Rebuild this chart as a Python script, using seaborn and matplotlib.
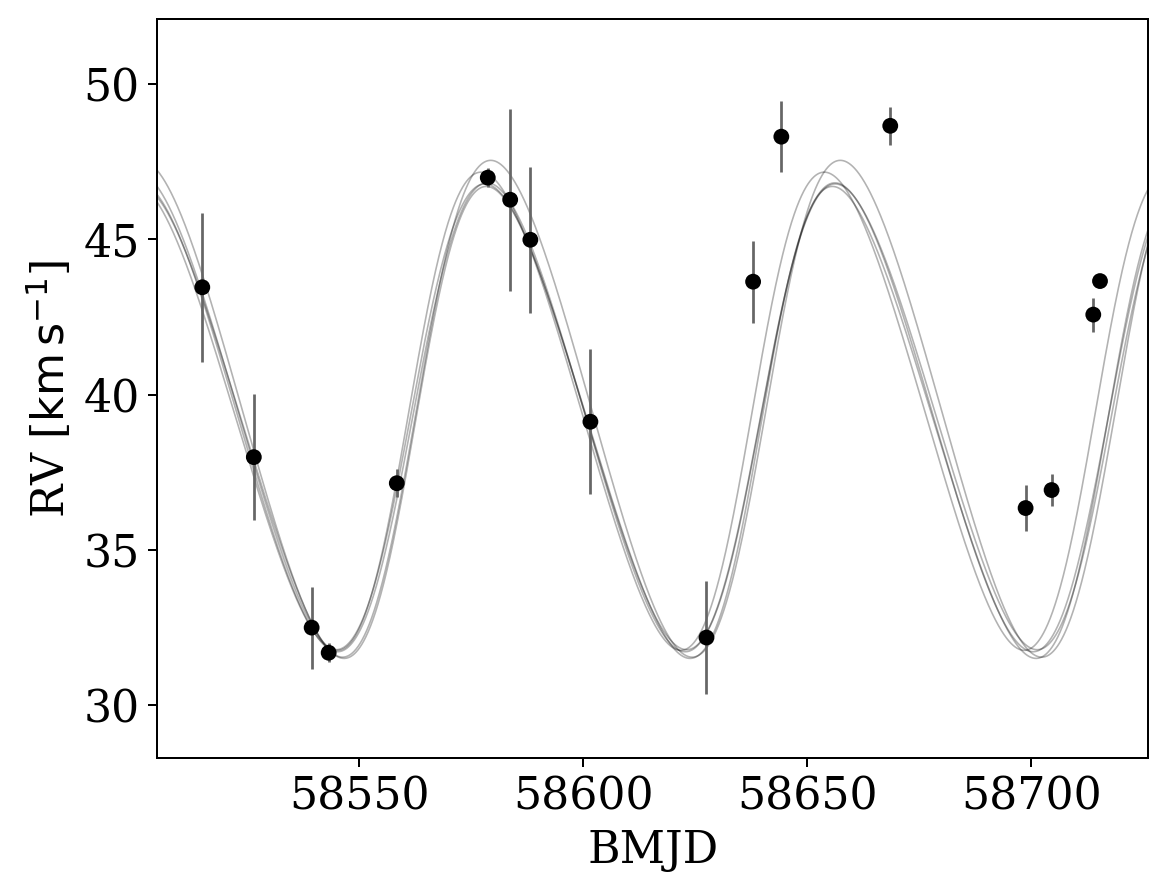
import numpy as np
import pandas as pd
import matplotlib
matplotlib.use("Agg")
import matplotlib.pyplot as plt
import seaborn as sns

bmjd = [58515.0, 58526.5, 58539.4, 58543.2, 58558.4, 58578.7, 58583.7, 58588.2,
        58601.6, 58627.5, 58637.9, 58644.2, 58668.5, 58698.7, 58704.5, 58713.8, 58715.3]
rv = [43.46, 37.99, 32.50, 31.69, 37.15, 46.99, 46.28, 44.99,
      39.13, 32.18, 43.64, 48.31, 48.66, 36.35, 36.93, 42.58, 43.66]
rv_err = [2.40, 2.02, 1.32, 0.30, 0.46, 0.30, 2.93, 2.35,
          2.34, 1.81, 1.32, 1.14, 0.62, 0.75, 0.51, 0.55, 0.20]

# ---- orbit samples (Keplerian parameters) ----
orb_P = [78.0, 76.6, 77.6, 78.2, 77.2]
orb_K = [8.00, 7.70, 7.55, 7.50, 7.60]
orb_e = [0.12, 0.13, 0.11, 0.12, 0.14]
orb_omega = [4.71, 4.68, 4.74, 4.70, 4.72]
orb_tp = [58562.8, 58560.8, 58562.2, 58561.3, 58562.6]
orb_v0 = [39.55, 39.50, 39.25, 39.30, 39.10]

x_lim = (58505.0, 58726.0)
y_lim = (28.3, 52.1)


def kepler_rv(t, P, K, e, omega, tp, v0):
    M = 2 * np.pi * (t - tp) / P
    E = M.copy()
    for _ in range(50):
        E = E - (E - e * np.sin(E) - M) / (1 - e * np.cos(E))
    nu = 2 * np.arctan2(np.sqrt(1 + e) * np.sin(E / 2), np.sqrt(1 - e) * np.cos(E / 2))
    return v0 + K * (np.cos(nu + omega) + e * np.cos(omega))


sns.set_style("ticks")
plt.rcParams.update({
    "font.family": ["DejaVu Serif"],
    "mathtext.fontset": "dejavusans",
    "axes.edgecolor": "black",
    "xtick.color": "black",
    "ytick.color": "black",
    "axes.labelcolor": "black",
    "text.color": "black",
    "axes.linewidth": 0.8,
    "xtick.major.width": 0.8,
    "ytick.major.width": 0.8,
    "xtick.major.size": 3.5,
    "ytick.major.size": 3.5,
})

dpi = 180
fs = 17.7
fig = plt.figure(figsize=(1169 / dpi, 896 / dpi), dpi=dpi)
ax = fig.add_axes([0.1347, 0.154, 0.982 - 0.1347, 0.9788 - 0.154])

tgrid = np.linspace(x_lim[0], x_lim[1], 3000)
for i in range(len(orb_P)):
    model = kepler_rv(tgrid, orb_P[i], orb_K[i], orb_e[i], orb_omega[i], orb_tp[i], orb_v0[i])
    sns.lineplot(x=tgrid, y=model, color="k", alpha=0.3, lw=0.65, ax=ax,
                 sort=False, zorder=1)

df = pd.DataFrame({"bmjd": bmjd, "rv": rv, "err": rv_err})
ax.errorbar(df["bmjd"], df["rv"], yerr=df["err"], fmt="none", ecolor="#666666",
            elinewidth=1.1, capsize=0, zorder=2)
sns.scatterplot(data=df, x="bmjd", y="rv", color="k", s=40, edgecolor="none",
                linewidth=0, ax=ax, zorder=3)

ax.set_xlim(*x_lim)
ax.set_ylim(*y_lim)
ax.set_xticks([58550, 58600, 58650, 58700])
ax.set_yticks([30, 35, 40, 45, 50])
ax.tick_params(labelsize=fs)
ax.set_xlabel("BMJD", fontsize=fs)
ax.set_ylabel(r"RV [$\mathrm{km}\,\mathrm{s}^{-1}$]", fontsize=fs)

fig.savefig("out.png", dpi=dpi)
